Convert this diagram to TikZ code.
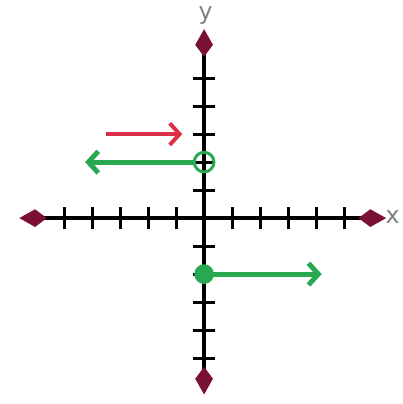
\documentclass[tikz,border=0pt]{standalone}
\usepackage{fontspec}
\setsansfont{DejaVu Sans}
\usetikzlibrary{arrows.meta}
\definecolor{raygreen}{RGB}{40,168,80}
\definecolor{rayred}{RGB}{218,48,72}
\definecolor{tipred}{RGB}{122,16,52}

\begin{document}
\begin{tikzpicture}[x=0.5cm,y=0.5cm,
  axis/.style={line width=2pt,
    {Kite[length=14pt,width=9pt,inset=6pt,color=tipred]}-{Kite[length=14pt,width=9pt,inset=6pt,color=tipred]}},
  tick/.style={line width=1.5pt},
  ray/.style={line width=2.5pt,raygreen,-{Straight Barb[length=5pt,width=11pt]}},
  lab/.style={font=\sffamily\large,text=gray,inner sep=0pt}]
  \useasboundingbox (-7.29,-6.64) rectangle (7.07,7.79);
  % axis ends
  \coordinate (xl) at (-6.6,0);
  \coordinate (xr) at (6.5,0);
  \coordinate (yb) at (0,-6.3);
  \coordinate (yt) at (0,6.75);
  % axes with ticks
  \draw[axis] (xl) -- (xr);
  \draw[axis] (yb) -- (yt);
  \foreach \k in {-5,...,-1,1,2,...,5}{
     \draw[tick] (\k,-0.4) -- (\k,0.4);
     \draw[tick] (-0.4,\k) -- (0.4,\k);
  }
  \node[lab] (ylab) at (0.05,7.25) {y};
  \node[lab,anchor=east] (xlab) at (7.0,0.05) {x};
  % red ray
  \coordinate (rs) at (-3.5,3);
  \coordinate (re) at (-0.78,3);
  \draw[ray,rayred,line width=2pt] (rs) -- (re);
  % open end at y=2, ray to the left
  \node[circle,draw=raygreen,line width=1.5pt,minimum size=10pt,inner sep=0pt] (open) at (0,2) {};
  \coordinate (gl) at (-4.25,2);
  \draw[ray] (open.west) -- (gl);
  % closed end at y=-2, ray to the right
  \node[circle,fill=raygreen,minimum size=10pt,inner sep=0pt] (closed) at (0,-2) {};
  \coordinate (gr) at (4.2,-2);
  \draw[ray] (closed.center) -- (gr);
\end{tikzpicture}
\end{document}
